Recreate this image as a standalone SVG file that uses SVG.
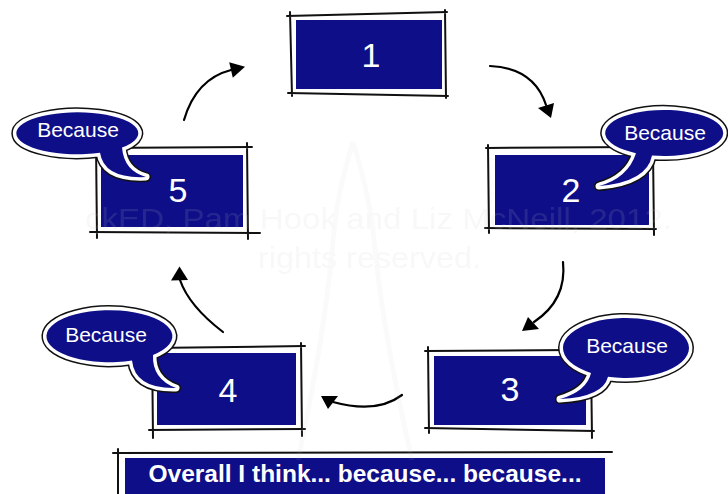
<svg xmlns="http://www.w3.org/2000/svg" width="728" height="494" viewBox="0 0 728 494">
  <style>
    .box { fill: #0e0e88; }
    .frame { fill: none; stroke: #111; stroke-width: 2; stroke-linecap: round; }
    .num { font-family: "Liberation Sans", Arial, sans-serif; font-size: 34px; fill: #fff; text-anchor: middle; }
    .say { font-family: "Liberation Sans", Arial, sans-serif; font-size: 21px; fill: #fff; text-anchor: middle; }
    .b-out { fill: none; stroke: #111; stroke-width: 10; stroke-linejoin: round; }
    .b-mid { fill: none; stroke: #fff; stroke-width: 7; stroke-linejoin: round; }
    .b-in { fill: #0e0e88; stroke: none; }
    .arc { fill: none; stroke: #000; stroke-width: 2.2; stroke-linecap: round; }
    .head { fill: #000; }
    .wm { font-family: "Liberation Sans", Arial, sans-serif; fill: #c8c8c8; }
    .tower { fill: none; stroke: #c8c8c8; stroke-width: 5; stroke-linejoin: round; }
  </style>
  <defs>
    <path id="bub2" d="M636,153.2 A59,23 0 1 1 652,155.5 Q647,182 599,186 Q628,178 636,153.2 Z"/>
    <path id="bub5" d="M100,152.8 A61,21 0 1 1 122,147.6 Q124,171 146,177 Q104,179 100,152.8 Z"/>
    <path id="bub4" d="M132,360.5 A63,26 0 1 1 153,355 Q152,379 176,388 Q135,389 132,360.5 Z"/>
    <path id="bub3" d="M591,372.9 A63,30 0 1 1 608,376.7 Q603,397 560,399 Q587,391 591,372.9 Z"/>
  </defs>

  <rect width="728" height="494" fill="#fff"/>

  <!-- cycle arrows -->
  <g id="connectors">
    <path class="arc" d="M184,120 Q196,79 231,70"/>
    <polygon class="head" points="245,66.8 229.2,62.2 232.8,77.8"/>
    <path class="arc" d="M490,66 Q534,68 546,105"/>
    <polygon class="head" points="551,118 538,108 554,103"/>
    <path class="arc" d="M563,262 Q567,300 534,322"/>
    <polygon class="head" points="522,331 528,317 539,329"/>
    <path class="arc" d="M402,395 Q377,414 333,402"/>
    <polygon class="head" points="321,396 328,409 338,396"/>
    <path class="arc" d="M223,332 Q189,306 180,280"/>
    <polygon class="head" points="179.5,266.5 171,280.5 188,280"/>
  </g>

  <g id="node-1">
    <rect class="box" x="296" y="20" width="146" height="69"/>
    <path class="frame" d="M287,16 L447,12 M290,12 L292,96 M288,93 L448,96 M445,10 L446,98"/>
    <text class="num" x="371" y="67">1</text>
  </g>

  <g id="node-2">
    <rect class="box" x="495" y="155" width="154" height="70"/>
    <path class="frame" d="M486,148 L640,147 M488,145 L489,233 M485,228 L656,229 M653,150 L654,235"/>
    <text class="num" x="571" y="202">2</text>
    <use href="#bub2" class="b-out"/>
    <use href="#bub2" class="b-mid"/>
    <use href="#bub2" class="b-in"/>
    <text class="say" x="665" y="140">Because</text>
  </g>

  <g id="node-5">
    <rect class="box" x="101" y="155" width="142" height="72"/>
    <path class="frame" d="M92,148 L252,147 M96,144 L97,238 M90,232 L260,233 M247,143 L248,239"/>
    <text class="num" x="178" y="202">5</text>
    <use href="#bub5" class="b-out"/>
    <use href="#bub5" class="b-mid"/>
    <use href="#bub5" class="b-in"/>
    <text class="say" x="78" y="137">Because</text>
  </g>

  <g id="node-4">
    <rect class="box" x="157" y="353" width="139" height="72"/>
    <path class="frame" d="M150,348 L305,346 M152,344 L153,438 M149,430 L305,429 M301,343 L302,436"/>
    <text class="num" x="228" y="402">4</text>
    <use href="#bub4" class="b-out"/>
    <use href="#bub4" class="b-mid"/>
    <use href="#bub4" class="b-in"/>
    <text class="say" x="106" y="342">Because</text>
  </g>

  <g id="node-3">
    <rect class="box" x="434" y="356" width="152" height="69"/>
    <path class="frame" d="M425,351 L570,350 M428,347 L429,433 M425,428 L594,431 M591,360 L592,438"/>
    <text class="num" x="510" y="401">3</text>
    <use href="#bub3" class="b-out"/>
    <use href="#bub3" class="b-mid"/>
    <use href="#bub3" class="b-in"/>
    <text class="say" x="627" y="353">Because</text>
  </g>

  <g id="summary">
    <path class="frame" d="M113,453 L612,452 M118,449 L118,494"/>
    <rect class="box" x="125" y="458" width="480" height="36"/>
    <text x="365" y="482" font-family="'Liberation Sans', Arial, sans-serif" font-size="24.5" font-weight="bold" fill="#fff" text-anchor="middle">Overall I think... because... because...</text>
  </g>

  <!-- faint copyright mark -->
  <g id="watermark" opacity="0.13">
    <path class="tower" opacity="0.6" d="M353,142 Q338,190 334,230 Q326,330 298,460 M353,142 Q368,190 373,230 Q382,330 412,460"/>
    <text class="wm" x="85" y="229" font-size="29" textLength="587" lengthAdjust="spacingAndGlyphs">ckED, Pam Hook and Liz McNeill, 2012.</text>
    <text class="wm" x="258" y="268" font-size="30" textLength="223" lengthAdjust="spacingAndGlyphs">rights reserved.</text>
  </g>
</svg>
